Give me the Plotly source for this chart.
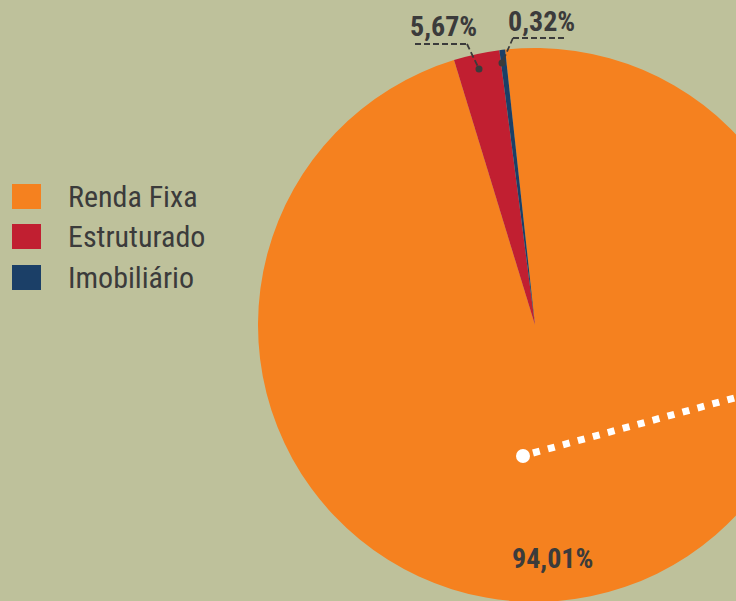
import plotly.graph_objects as go

# ---- data ----
categories = ["Renda Fixa", "Estruturado", "Imobiliário"]
slice_values = [97.0, 2.67, 0.33]          # slice sizes as drawn in the picture
label_texts = ["94,01%", "5,67%", "0,32%"]  # printed labels
colors = ["#F5811F", "#C11F31", "#1B3F67"]

BG = "#BEC19B"
TXT = "#3B3B3B"
FONT = "Liberation Sans Narrow, Arial Narrow, Roboto Condensed, Liberation Sans, Arial, sans-serif"

# canvas larger than the viewport so the pie is clipped like the reference
W, H = 820, 610


def px(x):
    return x / W


def py(y):
    return 1 - y / H


cx, cy, r = 535, 325, 277

fig = go.Figure(
    go.Pie(
        labels=categories,
        values=slice_values,
        marker=dict(colors=colors, line=dict(width=0)),
        sort=False,
        direction="clockwise",
        rotation=-6.2,
        textinfo="none",
        hoverinfo="label+percent",
        showlegend=False,
        domain=dict(x=[px(cx - r), px(cx + r)], y=[py(cy + r), py(cy - r)]),
    )
)

shapes = []
annotations = []

# legend (manual, large squares)
leg_tops = [184, 224, 265]
for i, name in enumerate(categories):
    t = leg_tops[i]
    shapes.append(dict(type="rect", xref="paper", yref="paper",
                       x0=px(12), x1=px(41), y0=py(t + 25), y1=py(t),
                       fillcolor=colors[i], line=dict(width=0)))
    annotations.append(dict(xref="paper", yref="paper", x=px(66), y=py(t + 12.5),
                            text=name, showarrow=False, xanchor="left", yanchor="middle",
                            font=dict(family=FONT, size=30, color=TXT)))

# percentage labels
label_pos = [(552, 558), (443, 26), (541, 22)]
for txt, (lx, ly) in zip(label_texts, label_pos):
    annotations.append(dict(xref="paper", yref="paper", x=px(lx), y=py(ly),
                            text="<b>" + txt + "</b>", showarrow=False,
                            xanchor="center", yanchor="middle",
                            font=dict(family=FONT, size=28, color=TXT)))

# leader lines for the small slices
lead = dict(color=TXT, width=1.8, dash="6px,3px")
shapes += [
    dict(type="line", xref="paper", yref="paper", x0=px(415), y0=py(44), x1=px(467), y1=py(44), line=lead),
    dict(type="line", xref="paper", yref="paper", x0=px(467), y0=py(44), x1=px(479), y1=py(69), line=lead),
    dict(type="line", xref="paper", yref="paper", x0=px(513), y0=py(38), x1=px(567), y1=py(38), line=lead),
    dict(type="line", xref="paper", yref="paper", x0=px(513), y0=py(38), x1=px(502), y1=py(63), line=lead),
]
for (dx, dy) in [(479, 69), (502, 63)]:
    shapes.append(dict(type="circle", xref="paper", yref="paper",
                       x0=px(dx - 3.5), x1=px(dx + 3.5), y0=py(dy + 3.5), y1=py(dy - 3.5),
                       fillcolor=TXT, line=dict(width=0)))

# white dotted pointer
shapes.append(dict(type="line", xref="paper", yref="paper",
                   x0=px(533), y0=py(453), x1=px(760), y1=py(391),
                   line=dict(color="white", width=7, dash="7px,8.5px")))
shapes.append(dict(type="circle", xref="paper", yref="paper",
                   x0=px(516), x1=px(530), y0=py(463), y1=py(449),
                   fillcolor="white", line=dict(width=0)))

fig.update_layout(
    width=W, height=H,
    margin=dict(l=0, r=0, t=0, b=0),
    paper_bgcolor=BG, plot_bgcolor=BG,
    shapes=shapes, annotations=annotations,
    showlegend=False,
)

fig.write_html("out.html",
               post_script="document.body.style.margin='0';document.body.style.overflow='hidden';"
                           "document.documentElement.style.overflow='hidden';"
                           "document.documentElement.style.background='" + BG + "';")
